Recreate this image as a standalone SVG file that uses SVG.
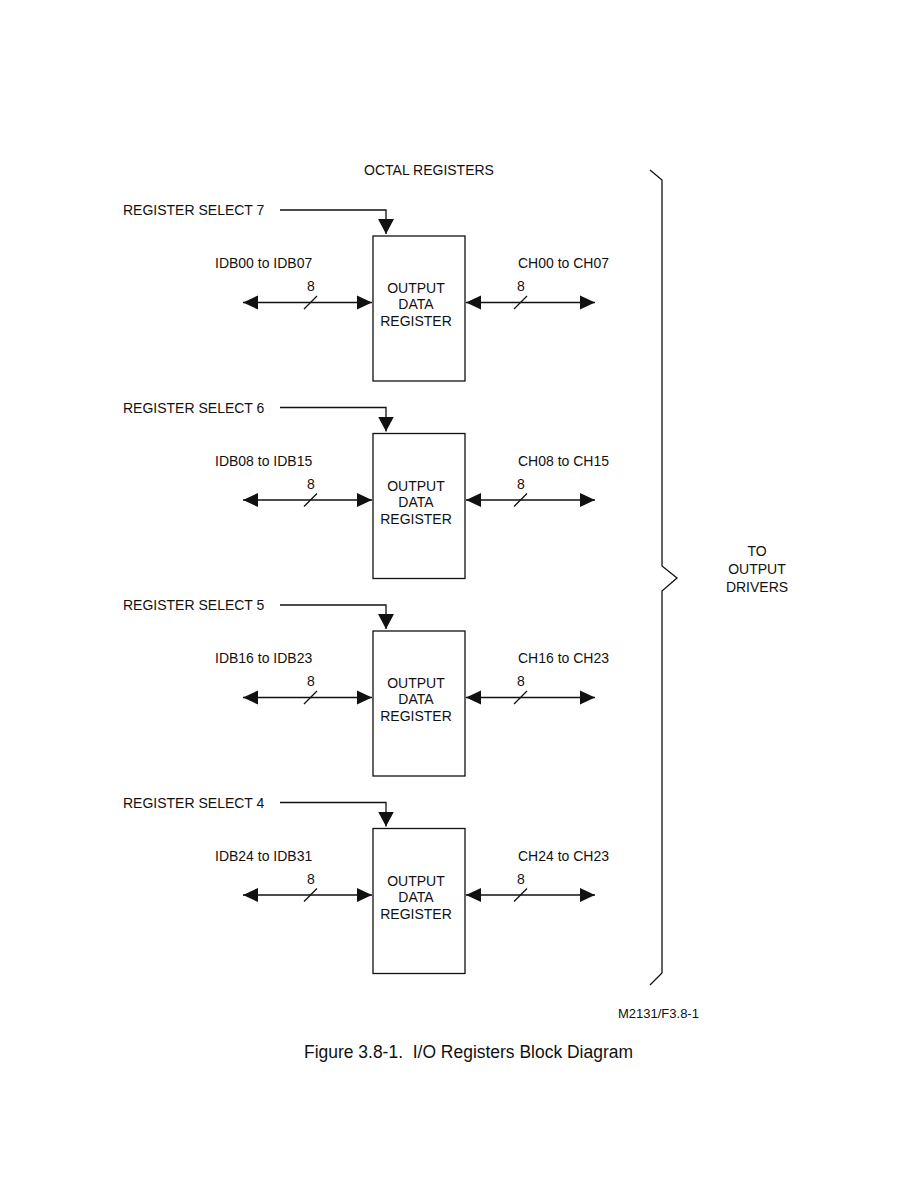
<svg xmlns="http://www.w3.org/2000/svg" width="918" height="1188" viewBox="0 0 918 1188">
<style>
text{font-family:"Liberation Sans",Arial,sans-serif;font-size:14px;fill:#111}
.c{text-anchor:middle}
.box{fill:#fff;stroke:#111;stroke-width:1.3}
.ln{fill:none;stroke:#111;stroke-width:1.3}
.bus{fill:none;stroke:#111;stroke-width:1.5;marker-start:url(#ah);marker-end:url(#ah)}
.sel{fill:none;stroke:#111;stroke-width:1.3;marker-end:url(#ahs)}
</style>
<defs>
<marker id="ah" markerUnits="userSpaceOnUse" markerWidth="16" markerHeight="16" refX="15" refY="7" orient="auto-start-reverse" viewBox="0 0 16 14"><path d="M0,0 L15,7 L0,14 z" fill="#111"/></marker>
<marker id="ahs" markerUnits="userSpaceOnUse" markerWidth="16" markerHeight="17" refX="15" refY="8" orient="auto" viewBox="0 0 16 16"><path d="M0,0 L15,8 L0,16 z" fill="#111"/></marker>
</defs>
<rect width="918" height="1188" fill="#fff"/>
<text x="429" y="175" class="c">OCTAL REGISTERS</text>

<g id="reg7">
<rect class="box" x="373" y="236" width="92" height="145"/>
<text x="416" y="293" class="c">OUTPUT</text><text x="416" y="309" class="c">DATA</text><text x="416" y="326" class="c">REGISTER</text>
</g>
<g id="reg6">
<rect class="box" x="373" y="433.5" width="92" height="145"/>
<text x="416" y="490.5" class="c">OUTPUT</text><text x="416" y="506.5" class="c">DATA</text><text x="416" y="523.5" class="c">REGISTER</text>
</g>
<g id="reg5">
<rect class="box" x="373" y="631" width="92" height="145"/>
<text x="416" y="688" class="c">OUTPUT</text><text x="416" y="704" class="c">DATA</text><text x="416" y="721" class="c">REGISTER</text>
</g>
<g id="reg4">
<rect class="box" x="373" y="828.5" width="92" height="145"/>
<text x="416" y="885.5" class="c">OUTPUT</text><text x="416" y="901.5" class="c">DATA</text><text x="416" y="918.5" class="c">REGISTER</text>
</g>

<g id="labels">
<text x="123" y="215">REGISTER SELECT 7</text>
<text x="215" y="268">IDB00 to IDB07</text>
<text x="518" y="268">CH00 to CH07</text>
<text x="123" y="412.5">REGISTER SELECT 6</text>
<text x="215" y="465.5">IDB08 to IDB15</text>
<text x="518" y="465.5">CH08 to CH15</text>
<text x="123" y="610">REGISTER SELECT 5</text>
<text x="215" y="663">IDB16 to IDB23</text>
<text x="518" y="663">CH16 to CH23</text>
<text x="123" y="807.5">REGISTER SELECT 4</text>
<text x="215" y="860.5">IDB24 to IDB31</text>
<text x="518" y="860.5">CH24 to CH23</text>
</g>

<g id="connectors">
<path class="sel" d="M280,210 H386 V234"/>
<path class="bus" d="M243,302.5 H372"/>
<path class="bus" d="M466,302.5 H595"/>
<path class="ln" d="M304,309 L317,296 M514,309 L527,296"/>
<text x="311" y="291" class="c">8</text><text x="521" y="291" class="c">8</text>

<path class="sel" d="M280,407.5 H386 V431.5"/>
<path class="bus" d="M243,500 H372"/>
<path class="bus" d="M466,500 H595"/>
<path class="ln" d="M304,506.5 L317,493.5 M514,506.5 L527,493.5"/>
<text x="311" y="488.5" class="c">8</text><text x="521" y="488.5" class="c">8</text>

<path class="sel" d="M280,605 H386 V629"/>
<path class="bus" d="M243,697.5 H372"/>
<path class="bus" d="M466,697.5 H595"/>
<path class="ln" d="M304,704 L317,691 M514,704 L527,691"/>
<text x="311" y="686" class="c">8</text><text x="521" y="686" class="c">8</text>

<path class="sel" d="M280,802.5 H386 V826.5"/>
<path class="bus" d="M243,895 H372"/>
<path class="bus" d="M466,895 H595"/>
<path class="ln" d="M304,901.5 L317,888.5 M514,901.5 L527,888.5"/>
<text x="311" y="883.5" class="c">8</text><text x="521" y="883.5" class="c">8</text>
</g>

<g id="brace">
<path class="ln" d="M650,170 L662,180 V566 L677,578 L662,591 V973 L650,985"/>
<text x="757" y="556" class="c">TO</text>
<text x="757" y="574" class="c">OUTPUT</text>
<text x="757" y="592" class="c">DRIVERS</text>
</g>

<text x="618" y="1018" style="font-size:13px">M2131/F3.8-1</text>
<text x="304" y="1058" style="font-size:18px;white-space:pre" xml:space="preserve" textLength="329" lengthAdjust="spacingAndGlyphs">Figure 3.8-1.  I/O Registers Block Diagram</text>
</svg>
